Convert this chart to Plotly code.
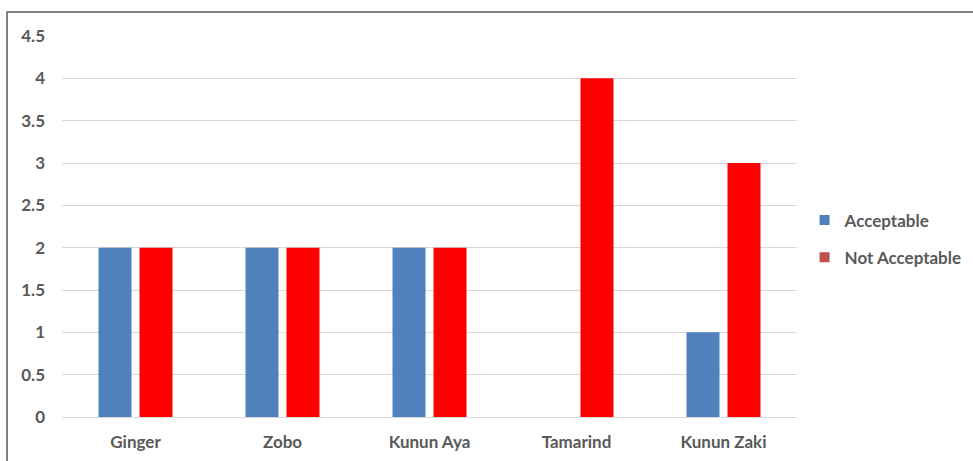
import plotly.graph_objects as go

categories = ["Ginger", "Zobo", "Kunun Aya", "Tamarind", "Kunun Zaki"]
acceptable = [2, 2, 2, 0, 1]
not_acceptable = [2, 2, 2, 4, 3]
tick_vals = [0, 0.5, 1, 1.5, 2, 2.5, 3, 3.5, 4, 4.5]
tick_text = ["0", "0.5", "1", "1.5", "2", "2.5", "3", "3.5", "4", "4.5"]

FONT = "Lato, Carlito, Calibri, sans-serif"
TXT = "#595959"

fig = go.Figure()
fig.add_trace(go.Bar(x=categories, y=acceptable, name="Acceptable",
                     marker=dict(color="#4F81BD", line=dict(width=0)),
                     offsetgroup="a", showlegend=False))
fig.add_trace(go.Bar(x=categories, y=not_acceptable, name="Not Acceptable",
                     marker=dict(color="#FF0000", line=dict(width=0)),
                     offsetgroup="b", showlegend=False))
# legend-only entries (legend swatches in the reference)
fig.add_trace(go.Scatter(x=[None], y=[None], mode="markers", name="Acceptable",
                         legendgroup="g1",
                         marker=dict(symbol="square", size=10, color="#4F81BD")))
fig.add_trace(go.Scatter(x=[None], y=[None], mode="markers", name="Not Acceptable",
                         legendgroup="g2",
                         marker=dict(symbol="square", size=10, color="#C0504D")))

fig.update_layout(
    width=973, height=461,
    margin=dict(l=62, r=176, t=36, b=44, autoexpand=False),
    paper_bgcolor="white", plot_bgcolor="white",
    barmode="group", bargap=0.442, bargroupgap=0.195,
    font=dict(family=FONT, size=17, color=TXT, weight="bold"),
    showlegend=True,
    legend=dict(x=1.0103, y=0.467, xanchor="left", yanchor="middle",
                font=dict(family=FONT, size=17, color=TXT, weight="bold"),
                tracegroupgap=12, itemsizing="trace", bgcolor="rgba(0,0,0,0)"),
    xaxis=dict(showgrid=False, showline=False, ticks="", ticklabelstandoff=13,
               tickfont=dict(family=FONT, size=17, color=TXT, weight="bold")),
    yaxis=dict(range=[0, 4.5], tickvals=tick_vals, ticktext=tick_text,
               showgrid=True, gridcolor="#D9D9D9", gridwidth=1,
               zeroline=True, zerolinecolor="#D9D9D9", zerolinewidth=1,
               showline=False, ticks="", ticklabelstandoff=16,
               tickfont=dict(family=FONT, size=17, color=TXT, weight="bold")),
    shapes=[dict(type="rect", xref="paper", yref="paper",
                 x0=-0.0748, y0=-0.3, x1=1.4, y1=1.063,
                 line=dict(color="#595959", width=1.5), fillcolor="rgba(0,0,0,0)",
                 layer="above")],
)

fig.write_html("out.html")
